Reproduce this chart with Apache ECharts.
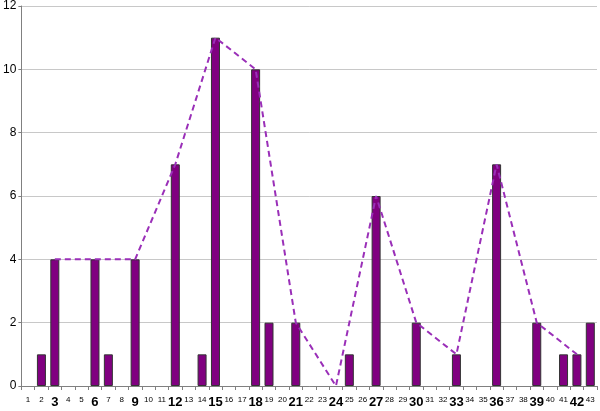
<!DOCTYPE html>
<html>
<head>
<meta charset="utf-8">
<script src="https://cdn.jsdelivr.net/npm/echarts@6/dist/echarts.min.js"></script>
<style>
  html, body { margin: 0; padding: 0; background: #fff; }
  #chart { width: 600px; height: 411px; }
</style>
</head>
<body>
<div id="chart"></div>
<script>
// categories 1..43
const categories = ['1','2','3','4','5','6','7','8','9','10','11','12','13','14','15','16','17','18','19','20','21','22','23','24','25','26','27','28','29','30','31','32','33','34','35','36','37','38','39','40','41','42','43'];
// bar heights
const barValues = [0,1,4,0,0,4,1,0,4,0,0,7,0,1,11,0,0,10,2,0,2,0,0,0,1,0,6,0,0,2,0,0,1,0,0,7,0,0,2,0,1,1,2];
// dashed line, only at every third category
const lineValues = [null,null,4,null,null,4,null,null,4,null,null,7,null,null,11,null,null,10,null,null,2,null,null,0,null,null,6,null,null,2,null,null,1,null,null,7,null,null,2,null,null,1,null];

let chart = echarts.init(document.getElementById('chart'));
let option = {
  animation: false,
  grid: { left: 17, right: 3, top: 5, bottom: 25, containLabel: false },
  xAxis: {
    type: 'category',
    data: categories,
    axisLine: { lineStyle: { color: '#808080' } },
    axisTick: { show: true, length: 4, lineStyle: { color: '#808080' } },
    axisLabel: {
      interval: 0,
      margin: 10,
      fontFamily: 'Liberation Sans, Arial, sans-serif',
      formatter: function (v) {
        return (+v % 3 === 0) ? '{b|' + v + '}' : '{s|' + v + '}';
      },
      rich: {
        s: { fontSize: 8, color: '#000', fontFamily: 'Liberation Sans' },
        b: { fontSize: 13, fontWeight: 'bold', color: '#000', fontFamily: 'Liberation Sans' }
      }
    }
  },
  yAxis: {
    type: 'value',
    min: 0,
    max: 12,
    interval: 2,
    axisLine: { show: true, lineStyle: { color: '#808080' } },
    axisTick: { show: true, length: 3, lineStyle: { color: '#808080' } },
    axisLabel: { margin: 5, fontSize: 12, color: '#000', fontFamily: 'Liberation Sans, Arial, sans-serif' },
    splitLine: { lineStyle: { color: '#c8c8c8' } }
  },
  series: [
    {
      type: 'bar',
      // empty categories draw nothing
      data: barValues.map(v => v === 0 ? '-' : v),
      barWidth: 9,
      itemStyle: { color: '#800080', borderColor: '#333', borderWidth: 1 }
    },
    {
      type: 'line',
      data: lineValues,
      connectNulls: true,
      symbol: 'none',
      lineStyle: { color: '#9a2fb8', width: 2, type: [6, 4] },
      z: 3
    }
  ]
};
chart.setOption(option);
</script>
</body>
</html>
